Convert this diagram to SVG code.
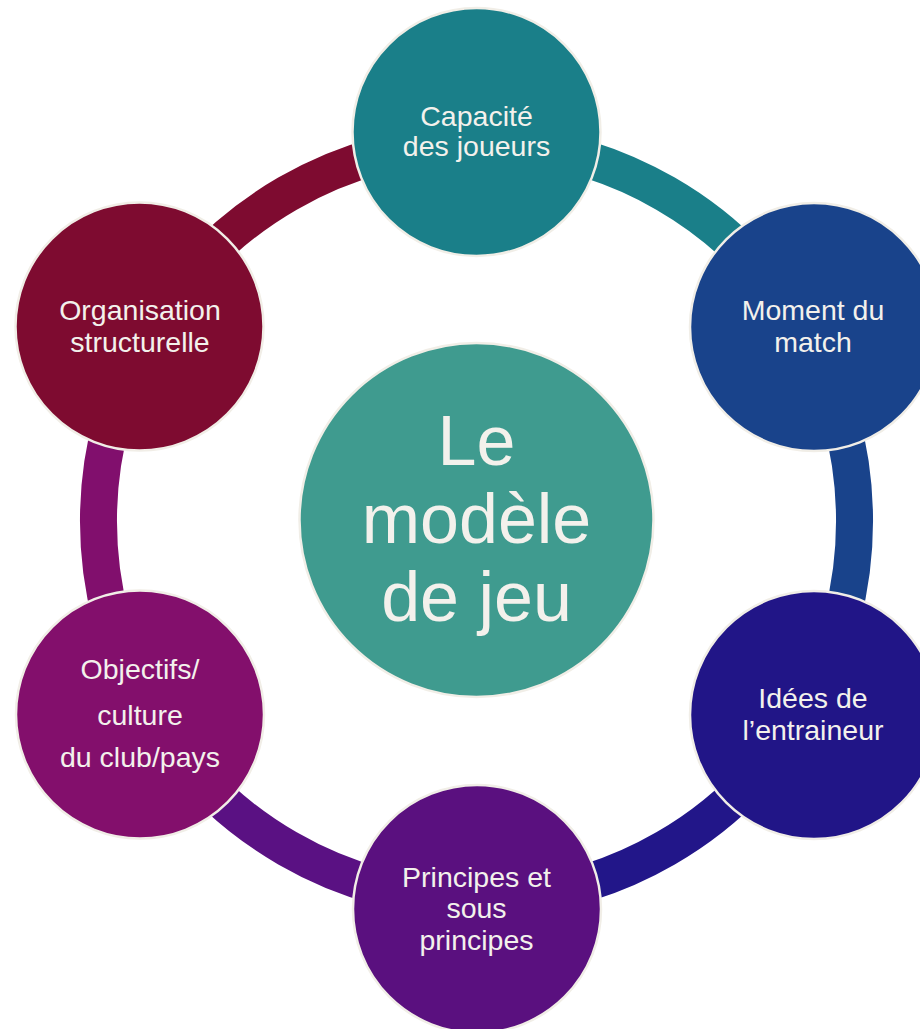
<svg xmlns="http://www.w3.org/2000/svg" width="920" height="1029" viewBox="0 0 920 1029">
  <style>
    .ring { fill: none; stroke-width: 37; }
    .node { stroke: #f1eee7; stroke-width: 2.5; }
    .lbl { font-family: "Liberation Sans", Arial, sans-serif; font-size: 28.5px; fill: #f3f1ec; text-anchor: middle; }
    .big { font-family: "Liberation Sans", Arial, sans-serif; font-size: 70px; fill: #f3f1ec; text-anchor: middle; }
  </style>
  <rect width="920" height="1029" fill="#ffffff"/>

  <!-- ring segments linking neighbouring nodes (centre 476.5,521, r 378) -->
  <g id="connectors">
    <path class="ring" stroke="#1a7f89" d="M476.5 143 A378 378 0 0 1 803.9 332"/>
    <path class="ring" stroke="#19438b" d="M803.9 332 A378 378 0 0 1 803.9 710"/>
    <path class="ring" stroke="#221689" d="M803.9 710 A378 378 0 0 1 476.5 899"/>
    <path class="ring" stroke="#5a1183" d="M476.5 899 A378 378 0 0 1 149.1 710"/>
    <path class="ring" stroke="#810f6d" d="M149.1 710 A378 378 0 0 1 149.1 332"/>
    <path class="ring" stroke="#7e0b30" d="M149.1 332 A378 378 0 0 1 476.5 143"/>
  </g>

  <g id="centre">
    <circle class="node" cx="476.5" cy="520" r="177" fill="#3f9b8f" stroke-width="2"/>
    <text class="big" x="476.5" y="465">Le</text>
    <text class="big" x="476.5" y="543">modèle</text>
    <text class="big" x="476.5" y="621">de jeu</text>
  </g>

  <g id="capacite">
    <circle class="node" cx="476.5" cy="132" r="124" fill="#1a7f89"/>
    <text class="lbl" x="476.5" y="126">Capacité</text>
    <text class="lbl" x="476.5" y="156">des joueurs</text>
  </g>

  <g id="moment">
    <circle class="node" cx="814" cy="327" r="124" fill="#19438b"/>
    <text class="lbl" x="813" y="320">Moment du</text>
    <text class="lbl" x="813" y="351.5">match</text>
  </g>

  <g id="idees">
    <circle class="node" cx="814" cy="715" r="124" fill="#211587"/>
    <text class="lbl" x="813" y="708">Idées de</text>
    <text class="lbl" x="813" y="740">l’entraineur</text>
  </g>

  <g id="principes">
    <circle class="node" cx="477" cy="909" r="124" fill="#5a107f"/>
    <text class="lbl" x="476.5" y="886.5">Principes et</text>
    <text class="lbl" x="476.5" y="918">sous</text>
    <text class="lbl" x="476.5" y="950">principes</text>
  </g>

  <g id="objectifs">
    <circle class="node" cx="140" cy="714.5" r="124" fill="#830f6c"/>
    <text class="lbl" x="140" y="679">Objectifs/</text>
    <text class="lbl" x="140" y="725">culture</text>
    <text class="lbl" x="140" y="766.5">du club/pays</text>
  </g>

  <g id="organisation">
    <circle class="node" cx="139.5" cy="326.5" r="124" fill="#7e0b30"/>
    <text class="lbl" x="140" y="320">Organisation</text>
    <text class="lbl" x="140" y="351.5">structurelle</text>
  </g>
</svg>
